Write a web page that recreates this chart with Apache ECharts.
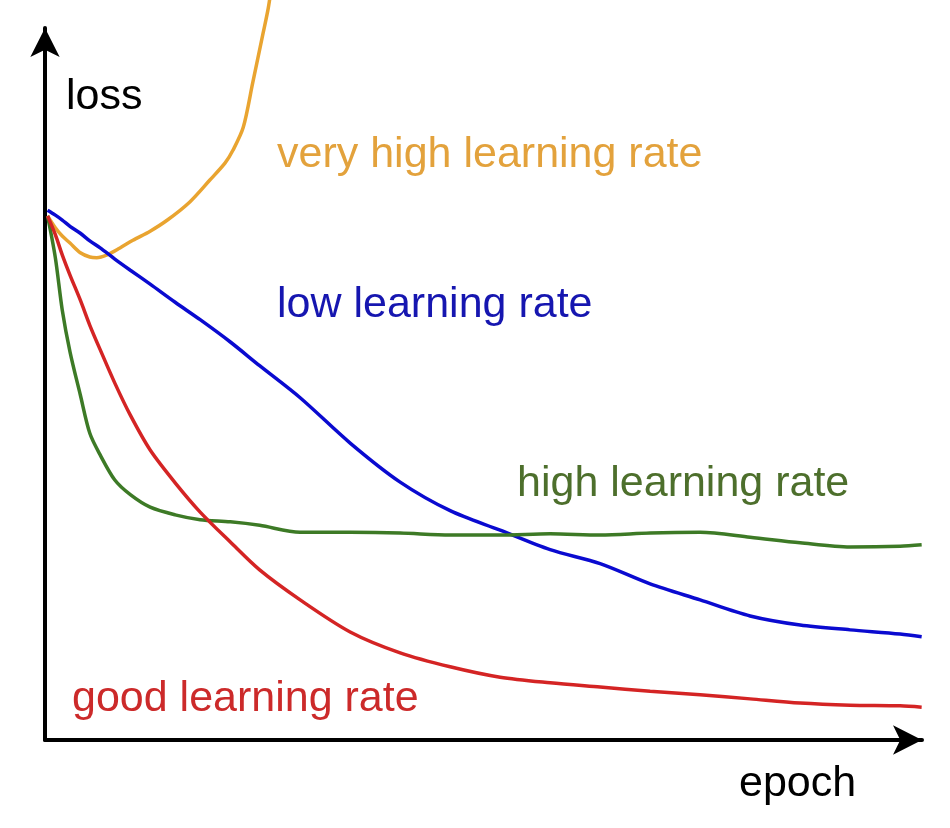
<!DOCTYPE html>
<html>
<head>
<meta charset="utf-8">
<script src="https://cdn.jsdelivr.net/npm/echarts@6/dist/echarts.min.js"></script>
<style>
  html, body { margin: 0; padding: 0; background: #ffffff; }
  #chart { width: 950px; height: 828px; }
</style>
</head>
<body>
<div id="chart"></div>
<script>
// Shared epochs (arbitrary units along the x axis)
const epochs = [0.3, 1.2, 2.0, 2.9, 4.1, 5.2, 6.4, 8.1, 9.9, 12.2, 15.1, 18.0, 21.5, 24.9, 29.6, 35.4, 41.2, 47.0, 52.8, 58.6, 64.4, 70.2, 76.0, 81.8, 87.6, 93.4, 99.2, 101.7];

const lowLoss  = [76.0, 75.3, 74.6, 73.7, 72.7, 71.6, 70.6, 69.0, 67.4, 65.4, 62.8, 60.3, 57.1, 53.7, 49.1, 42.6, 37.0, 32.9, 30.1, 27.3, 25.3, 22.4, 20.1, 17.8, 16.5, 15.8, 15.2, 14.8];
const goodLoss = [75.2, 72.5, 69.6, 66.7, 63.1, 59.5, 56.0, 51.2, 46.6, 41.6, 36.9, 32.7, 28.4, 24.4, 20.1, 15.5, 12.5, 10.5, 9.0, 8.2, 7.6, 7.0, 6.5, 5.9, 5.3, 5.0, 4.9, 4.7];
const highLoss = [75.2, 69.2, 61.7, 55.7, 49.5, 44.0, 40.9, 37.3, 35.2, 33.4, 32.3, 31.6, 31.3, 30.8, 29.8, 29.8, 29.7, 29.4, 29.4, 29.6, 29.4, 29.7, 29.8, 29.1, 28.3, 27.7, 27.8, 28.0];

// Very high learning rate: diverges quickly, only early epochs are visible
const veryHighEpochs = [0.3, 1.2, 2.0, 2.9, 4.1, 5.2, 6.0, 7.2, 8.7, 10.2, 12.2, 14.2, 16.8, 19.1, 20.9, 21.8, 23.0, 24.1, 25.3, 25.9, 26.3];
const veryHighLoss   = [75.2, 73.5, 72.3, 71.3, 69.9, 69.3, 69.2, 69.6, 70.6, 71.7, 73.0, 74.6, 77.2, 80.3, 82.8, 84.6, 87.9, 94.3, 101.4, 105.0, 108.3];

// Axis extents (the arrow tips)
const xMax = 101.74;
const yMax = 102.15;

const seriesNames = ['very high learning rate', 'low learning rate', 'high learning rate', 'good learning rate'];
const lineColors  = ['#E9A430', '#0a0ad0', '#3d7a26', '#d42424'];
const textColors  = ['#E3A23C', '#1616b0', '#4d6f2c', '#cc2a2a'];
const axisTitles  = ['loss', 'epoch'];

function pairs(xs, ys) { return xs.map((x, i) => [x, ys[i]]); }

const chart = echarts.init(document.getElementById('chart'), null, { renderer: 'canvas' });

const FONT = '"Liberation Sans", Arial, sans-serif';
function label(text, x, y, color) {
  return {
    type: 'text', x: x, y: y, z: 100,
    style: { text: text, fill: color, font: '43px ' + FONT, verticalAlign: 'middle', align: 'left' }
  };
}

const lineBase = {
  type: 'line', showSymbol: false, symbol: 'none', clip: false,
  smooth: 0.3, connectNulls: false, z: 5
};

chart.setOption({
  animation: false,
  backgroundColor: '#ffffff',
  grid: { left: 45, right: 28, top: 28, bottom: 88, containLabel: false },
  xAxis: {
    type: 'value', min: 0, max: xMax,
    axisLine: { show: true, onZero: false, symbol: ['none', 'arrow'], symbolSize: [22, 29],
      lineStyle: { color: '#000', width: 4 } },
    axisTick: { show: false }, axisLabel: { show: false }, splitLine: { show: false }
  },
  yAxis: {
    type: 'value', min: 0, max: yMax,
    axisLine: { show: true, onZero: false, symbol: ['none', 'arrow'], symbolSize: [22, 29],
      lineStyle: { color: '#000', width: 4 } },
    axisTick: { show: false }, axisLabel: { show: false }, splitLine: { show: false }
  },
  series: [
    Object.assign({}, lineBase, { name: seriesNames[0], data: pairs(veryHighEpochs, veryHighLoss),
      lineStyle: { color: lineColors[0], width: 3.5 } }),
    Object.assign({}, lineBase, { name: seriesNames[1], data: pairs(epochs, lowLoss),
      lineStyle: { color: lineColors[1], width: 3.5 } }),
    Object.assign({}, lineBase, { name: seriesNames[2], data: pairs(epochs, highLoss),
      lineStyle: { color: lineColors[2], width: 3.5 } }),
    Object.assign({}, lineBase, { name: seriesNames[3], data: pairs(epochs, goodLoss),
      lineStyle: { color: lineColors[3], width: 3.5 } })
  ],
  graphic: [
    label(axisTitles[0], 66, 97, '#000000'),
    label(axisTitles[1], 739, 784, '#000000'),
    label(seriesNames[0], 277, 155, textColors[0]),
    label(seriesNames[1], 277, 305, textColors[1]),
    label(seriesNames[2], 517, 484, textColors[2]),
    label(seriesNames[3], 72, 699, textColors[3])
  ]
});
</script>
</body>
</html>
